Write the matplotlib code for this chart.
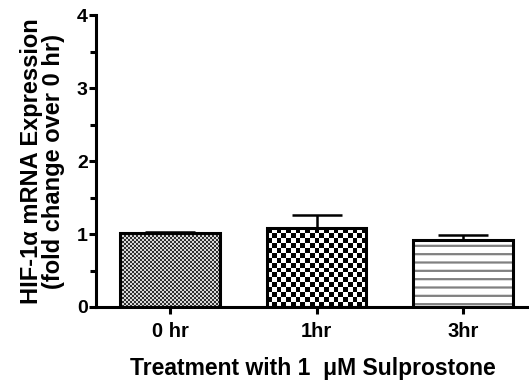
import numpy as np
import matplotlib
matplotlib.use('Agg')
import matplotlib.pyplot as plt
from matplotlib.colors import ListedColormap
from matplotlib.ticker import MultipleLocator

categories = ['0 hr', '1hr', '3hr']
means = [1.01, 1.08, 0.92]
err_upper = [0.02, 0.18, 0.07]
y_ticks = [0, 1, 2, 3, 4]

plt.rcParams['font.family'] = ['Liberation Sans', 'DejaVu Sans']
plt.rcParams['font.weight'] = 'bold'
plt.rcParams['hatch.linewidth'] = 1.6

fig = plt.figure(figsize=(5.29, 3.85), dpi=100)
ax = fig.add_axes([0.1815, 0.2026, 0.8185, 0.758])
x = np.arange(len(categories))
width = 0.68

ax.set_xlim(-0.505, 2.45)
ax.set_ylim(0, 4)

fills = ax.bar(x, means, width=width, color='white', edgecolor='none', zorder=1)

fig.canvas.draw()


def checker(bar, cell_px, dark, light):
    x0, w, h = bar.get_x(), bar.get_width(), bar.get_height()
    p0 = ax.transData.transform((x0, 0))
    p1 = ax.transData.transform((x0 + w, h))
    nx = max(1, int(round((p1[0] - p0[0]) / cell_px)))
    ny = max(1, int(round((p1[1] - p0[1]) / cell_px)))
    arr = np.add.outer(np.arange(ny), np.arange(nx)) % 2
    im = ax.imshow(arr, cmap=ListedColormap([light, dark]),
                   extent=(x0, x0 + w, 0, h), origin='lower',
                   interpolation='nearest', aspect='auto', zorder=2)
    im.set_clip_path(bar)


checker(fills[0], 2.0, '#303030', '#d8d8d8')
checker(fills[1], 4.8, 'black', 'white')

# horizontal line hatch for 3hr bar
ax.bar(x[2], means[2], width=width, facecolor='none', edgecolor='#808080',
       hatch='--', linewidth=0, zorder=2)

# outlines
ax.bar(x, means, width=width, fill=False, edgecolor='black', linewidth=2.2, zorder=3)

ax.errorbar(x, means, yerr=[np.zeros(len(means)), err_upper], fmt='none',
            ecolor='black', elinewidth=1.8, capsize=18, capthick=1.8, zorder=4)

ax.set_xlim(-0.505, 2.45)
ax.set_ylim(0, 4)

for s in ['top', 'right']:
    ax.spines[s].set_visible(False)
for s in ['left', 'bottom']:
    ax.spines[s].set_linewidth(2.2)

ax.set_yticks(y_ticks)
ax.yaxis.set_minor_locator(MultipleLocator(0.5))
ax.set_xticks(x)
ax.set_xticklabels(categories)
ax.tick_params(axis='y', which='major', length=5, width=2.2, pad=1, labelsize=14)
ax.tick_params(axis='y', which='minor', length=4, width=2.2)
ax.tick_params(axis='x', which='major', length=5, width=2.2, pad=6, labelsize=14.5)
for lab in ax.get_xticklabels() + ax.get_yticklabels():
    lab.set_fontweight('bold')

ax.set_ylabel('HIF-1\u03b1 mRNA Expression\n(fold change over 0 hr)',
              fontsize=17, fontweight='bold', linespacing=0.95)
ax.yaxis.set_label_coords(-0.072, 0.5)
ax.set_xlabel('Treatment with 1  \u03bcM Sulprostone', fontsize=16.5,
              fontweight='bold', labelpad=11)

fig.savefig('out.png', dpi=100)
